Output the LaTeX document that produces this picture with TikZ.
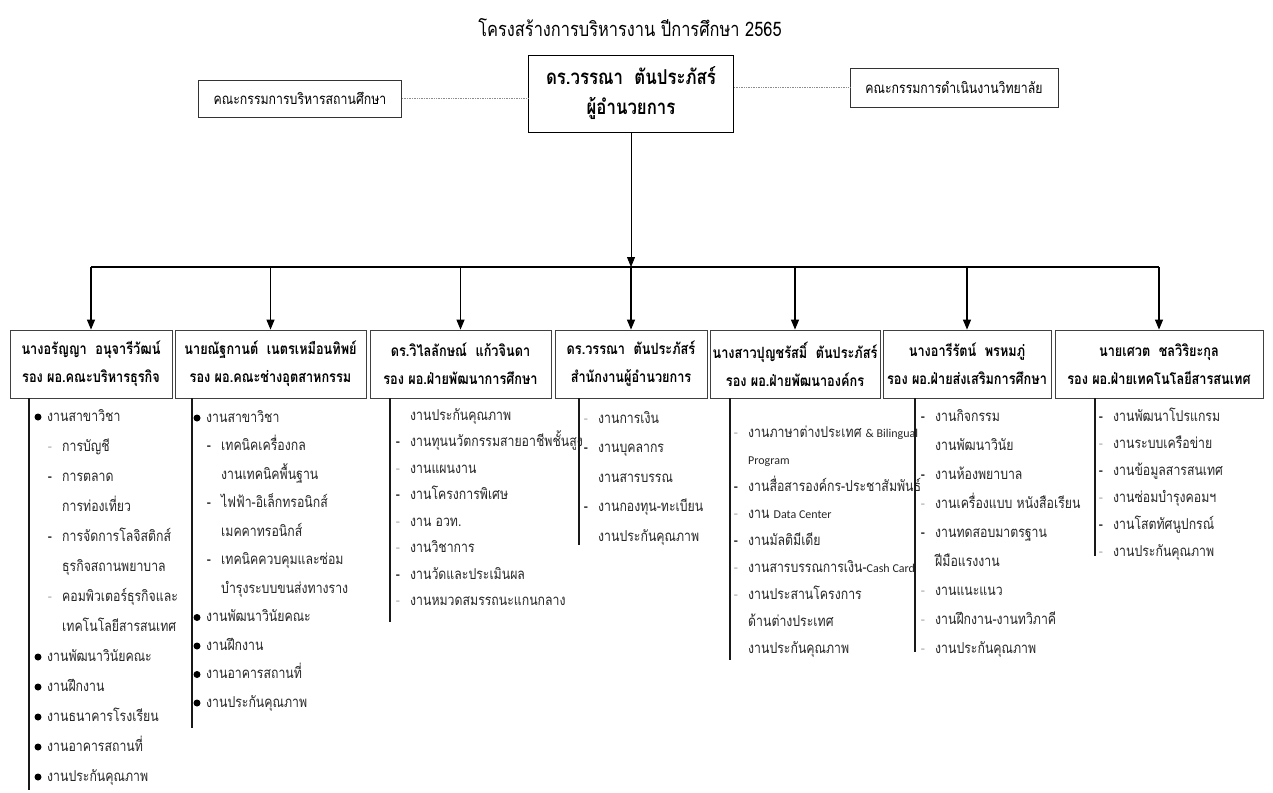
\documentclass[tikz,border=0pt]{standalone}
\usepackage{fontspec}
\setmainfont{Loma}[Script=Thai, FakeStretch=0.82]
\newfontfamily\latinfont{Carlito}
\usepackage{tikz}
\usetikzlibrary{arrows.meta,calc}

\newcommand\lat[1]{{\latinfont\fontsize{12}{14}\selectfont #1}}

\begin{document}
\begin{tikzpicture}[x=1pt,y=-1pt,
    item/.style={anchor=base west, inner sep=0pt, text=black!85, font=\fontsize{15}{17}\selectfont},
    it/.style={#1},
    bulletmark/.style={circle, fill=black, inner sep=0pt, minimum size=7pt},
    dashmark/.style={anchor=base, inner sep=0pt, font=\fontsize{15}{17}\selectfont},
    itb/.style={append after command={node[bulletmark] at ([xshift=-9pt,yshift=4pt]\tikzlastnode.base west) {}}},
    itd/.style={append after command={node[dashmark] at ([xshift=-12pt]\tikzlastnode.base west) {-}}},
    itf/.style={append after command={node[dashmark, text=black!30] at ([xshift=-12pt]\tikzlastnode.base west) {-}}},
    itc/.style={},
    ssd/.style={itd, xshift=15pt},
    ssf/.style={itf, xshift=15pt},
    ssc/.style={xshift=15pt},
    headbox/.style={draw=black!75, line width=0.8pt, minimum height=68pt, inner sep=2pt, align=center,
        font=\bfseries\fontsize{15.5}{28}\selectfont},
    sidebox/.style={draw=black!80, line width=0.7pt, inner sep=2pt, font=\fontsize{15}{17}\selectfont},
    dotline/.style={draw=black!45, line width=0.7pt, densely dotted},
    arr/.style={-{Triangle[length=10pt,width=8pt]}, line width=1.2pt},
    bar/.style={line width=1.3pt, black!90}]
    \useasboundingbox (0,0) rectangle (1273,792);

    % Title
    \node[font=\fontsize{20}{22}\selectfont] (title) at (630,28) {โครงสร้างการบริหารงาน ปีการศึกษา 2565};

    % Director and committees
    \node[draw, line width=0.9pt, minimum width=205pt, minimum height=77pt, align=center,
        font=\bfseries\fontsize{20.5}{30}\selectfont] (dir) at (631,93.5) {ดร.วรรณา\ \ ตันประภัสร์\\ผู้อำนวยการ};
    \node[sidebox, minimum width=203pt, minimum height=37pt] (board) at (300,98.5) {คณะกรรมการบริหารสถานศึกษา};
    \node[sidebox, minimum width=208pt, minimum height=39pt] (comm) at (954,87.5) {คณะกรรมการดำเนินงานวิทยาลัย};
    \draw[dotline] (board.east) -- (board.east -| dir.west);
    \draw[dotline] (dir.east |- comm.west) -- (comm.west);

    % Deputy heads
    \node[headbox, minimum width=162pt] (h1) at (91,364) {นางอรัญญา\ \ อนุจารีวัฒน์\\รอง ผอ.คณะบริหารธุรกิจ};
    \node[headbox, minimum width=191pt] (h2) at (270.5,364) {นายณัฐกานต์\ \ เนตรเหมือนทิพย์\\รอง ผอ.คณะช่างอุตสาหกรรม};
    \node[headbox, minimum width=181pt] (h3) at (460.5,364) {ดร.วิไลลักษณ์\ \ แก้วจินดา\\รอง ผอ.ฝ่ายพัฒนาการศึกษา};
    \node[headbox, minimum width=152pt] (h4) at (631,364) {ดร.วรรณา\ \ ตันประภัสร์\\สำนักงานผู้อำนวยการ};
    \node[headbox, minimum width=170pt] (h5) at (795,364) {นางสาวปุญชรัสมิ์\ \ ตันประภัสร์\\รอง ผอ.ฝ่ายพัฒนาองค์กร};
    \node[headbox, minimum width=168pt] (h6) at (967,364) {นางอารีรัตน์\ \ พรหมภู่\\รอง ผอ.ฝ่ายส่งเสริมการศึกษา};
    \node[headbox, minimum width=208pt] (h7) at (1159,364) {นายเศวต\ \ ชลวิริยะกุล\\รอง ผอ.ฝ่ายเทคโนโลยีสารสนเทศ};

    % Bus and arrows
    \coordinate (bus) at (0,267);
    \draw[arr, line width=0.8pt] (dir.south) -- (dir.south |- bus);
    \draw[line width=1.2pt] (h1.north |- bus) -- (h7.north |- bus);
    \foreach \h in {h1,h2,h3,h4,h5,h6,h7}
        \draw[arr] (\h.north |- bus) -- (\h.north);

    % Column 1
    \draw[bar] (29,398) -- (29,790);
    \foreach \kind/\txt [count=\i from 0] in {itb/งานสาขาวิชา, ssf/การบัญชี, ssd/การตลาด, ssc/การท่องเที่ยว,
        ssd/การจัดการโลจิสติกส์, ssc/ธุรกิจสถานพยาบาล, ssf/คอมพิวเตอร์ธุรกิจและ, ssc/เทคโนโลยีสารสนเทศ,
        itb/งานพัฒนาวินัยคณะ, itb/งานฝึกงาน, itb/งานธนาคารโรงเรียน, itb/งานอาคารสถานที่, itb/งานประกันคุณภาพ}
        \node[item, it/.expand once=\kind] (a\i) at (47,{421+30*\i}) {\txt};

    % Column 2
    \draw[bar] (192,398) -- (192,728);
    \foreach \kind/\txt [count=\i from 0] in {itb/งานสาขาวิชา, ssd/เทคนิคเครื่องกล, ssc/งานเทคนิคพื้นฐาน,
        ssd/ไฟฟ้า-อิเล็กทรอนิกส์, ssc/เมคคาทรอนิกส์, ssd/เทคนิคควบคุมและซ่อม, ssc/บำรุงระบบขนส่งทางราง,
        itb/งานพัฒนาวินัยคณะ, itb/งานฝึกงาน, itb/งานอาคารสถานที่, itb/งานประกันคุณภาพ}
        \node[item, it/.expand once=\kind] (b\i) at (206,{422+28.5*\i}) {\txt};

    % Column 3
    \draw[bar] (390,398) -- (390,622);
    \foreach \kind/\txt [count=\i from 0] in {itc/งานประกันคุณภาพ, itd/งานทุนนวัตกรรมสายอาชีพชั้นสูง,
        itf/งานแผนงาน, itd/งานโครงการพิเศษ, itf/งาน อวท., itf/งานวิชาการ, itd/งานวัดและประเมินผล,
        itf/งานหมวดสมรรถนะแกนกลาง}
        \node[item, it/.expand once=\kind] (c\i) at (410,{420+26.5*\i}) {\txt};

    % Column 4
    \draw[bar] (579,398) -- (579,545);
    \foreach \kind/\txt [count=\i from 0] in {itf/งานการเงิน, itd/งานบุคลากร, itc/งานสารบรรณ,
        itd/งานกองทุน-ทะเบียน, itc/งานประกันคุณภาพ}
        \node[item, it/.expand once=\kind] (d\i) at (598,{423+29.5*\i}) {\txt};

    % Column 5
    \draw[bar] (730,398) -- (730,660);
    \foreach \kind/\txt [count=\i from 0] in {itf/งานภาษาต่างประเทศ \lat{\& Bilingual}, itc/\lat{Program},
        itd/งานสื่อสารองค์กร-ประชาสัมพันธ์, itf/งาน \lat{Data Center}, itd/งานมัลติมีเดีย,
        itf/งานสารบรรณการเงิน-\lat{Cash Card}, itf/งานประสานโครงการ, itc/ด้านต่างประเทศ, itc/งานประกันคุณภาพ}
        \node[item, it/.expand once=\kind] (e\i) at (748,{437+27*\i}) {\txt};

    % Column 6
    \draw[bar] (915,398) -- (915,652);
    \foreach \kind/\txt [count=\i from 0] in {itd/งานกิจกรรม, itc/งานพัฒนาวินัย, itd/งานห้องพยาบาล,
        itf/งานเครื่องแบบ หนังสือเรียน, itd/งานทดสอบมาตรฐาน, itc/ฝีมือแรงงาน, itf/งานแนะแนว,
        itf/งานฝึกงาน-งานทวิภาคี, itf/งานประกันคุณภาพ}
        \node[item, it/.expand once=\kind] (f\i) at (935,{421+29*\i}) {\txt};

    % Column 7
    \draw[bar] (1095,398) -- (1095,556);
    \foreach \kind/\txt [count=\i from 0] in {itd/งานพัฒนาโปรแกรม, itf/งานระบบเครือข่าย, itd/งานข้อมูลสารสนเทศ,
        itf/งานซ่อมบำรุงคอมฯ, itd/งานโสตทัศนูปกรณ์, itf/งานประกันคุณภาพ}
        \node[item, it/.expand once=\kind] (g\i) at (1113,{421+27*\i}) {\txt};
\end{tikzpicture}
\end{document}
